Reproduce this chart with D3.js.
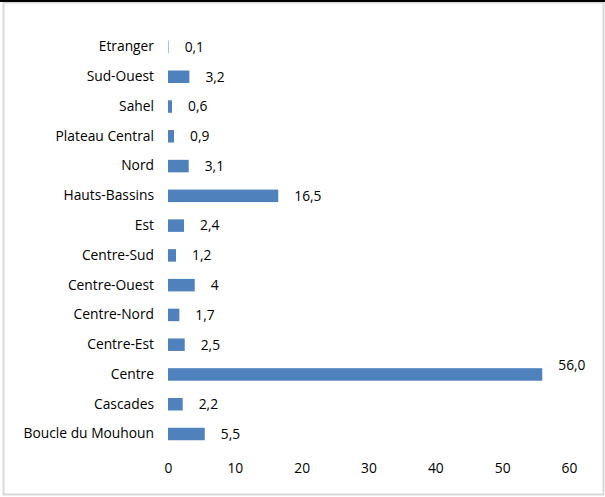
<!DOCTYPE html>
<html>
<head>
<meta charset="utf-8">
<script src="https://cdn.jsdelivr.net/npm/d3@7"></script>
<style>
  body { margin: 0; background: #fff; }
  svg text { font-family: "Open Sans", "Liberation Sans", sans-serif; fill: #000; }
</style>
</head>
<body>
<svg id="chart" width="605" height="497"></svg>
<script>
// data, bottom to top as in the picture
var regions = ['Boucle du Mouhoun', 'Cascades', 'Centre', 'Centre-Est', 'Centre-Nord',
  'Centre-Ouest', 'Centre-Sud', 'Est', 'Hauts-Bassins', 'Nord', 'Plateau Central',
  'Sahel', 'Sud-Ouest', 'Etranger'];
var values = [5.5, 2.2, 56.0, 2.5, 1.7, 4, 1.2, 2.4, 16.5, 3.1, 0.9, 0.6, 3.2, 0.1];
var valueLabels = ['5,5', '2,2', '56,0', '2,5', '1,7', '4', '1,2', '2,4', '16,5', '3,1', '0,9', '0,6', '3,2', '0,1'];
var ticks = [0, 10, 20, 30, 40, 50, 60];

var svg = d3.select('#chart');
var fs = '13.8px';

// frame
svg.append('rect')
  .attr('x', 3.5).attr('y', 2.5)
  .attr('width', 600).attr('height', 492)
  .attr('fill', 'none')
  .attr('stroke', '#d9d9d9')
  .attr('stroke-width', 2);
svg.append('line')
  .attr('x1', 0).attr('x2', 605)
  .attr('y1', 1).attr('y2', 1)
  .attr('stroke', '#000')
  .attr('stroke-width', 2);

var x = d3.scaleLinear().domain([0, 60]).range([168, 569]);
var rowTop = 47, rowBottom = 434;
var step = (rowBottom - rowTop) / (regions.length - 1);
var y = d3.scaleBand()
  .domain(regions.slice().reverse())
  .range([rowTop - step / 2, rowBottom + step / 2])
  .paddingInner(0.58)
  .paddingOuter(0.29);

var data = regions.map(function (r, i) {
  return { name: r, value: values[i], label: valueLabels[i] };
});

// bars
svg.append('g').selectAll('rect')
  .data(data)
  .enter().append('rect')
  .attr('x', x(0))
  .attr('y', function (d) { return y(d.name); })
  .attr('width', function (d) { return Math.max(x(d.value) - x(0), 1); })
  .attr('height', y.bandwidth())
  .attr('fill', function (d) { return d.value < 0.5 ? '#a9c0de' : '#4f81bd'; });

// category labels
var yAxis = svg.append('g')
  .attr('transform', 'translate(' + (x(0) - 14) + ',0)')
  .call(d3.axisLeft(y).tickSize(0).tickPadding(0));
yAxis.select('.domain').remove();
yAxis.selectAll('text')
  .style('font-size', fs)
  .attr('fill', '#000');

// value labels
svg.append('g').selectAll('text')
  .data(data)
  .enter().append('text')
  .attr('x', function (d) { return x(d.value) + 16; })
  .attr('y', function (d) {
    var c = y(d.name) + y.bandwidth() / 2;
    return d.value > 50 ? c - 9 : c;
  })
  .attr('dy', '0.35em')
  .style('font-size', fs)
  .text(function (d) { return d.label; });

// x tick labels
var xAxis = svg.append('g')
  .attr('transform', 'translate(0,458)')
  .call(d3.axisBottom(x).tickValues(ticks).tickSize(0).tickPadding(5).tickFormat(d3.format('d')));
xAxis.select('.domain').remove();
xAxis.selectAll('text')
  .style('font-size', fs)
  .attr('fill', '#000');
</script>
</body>
</html>
